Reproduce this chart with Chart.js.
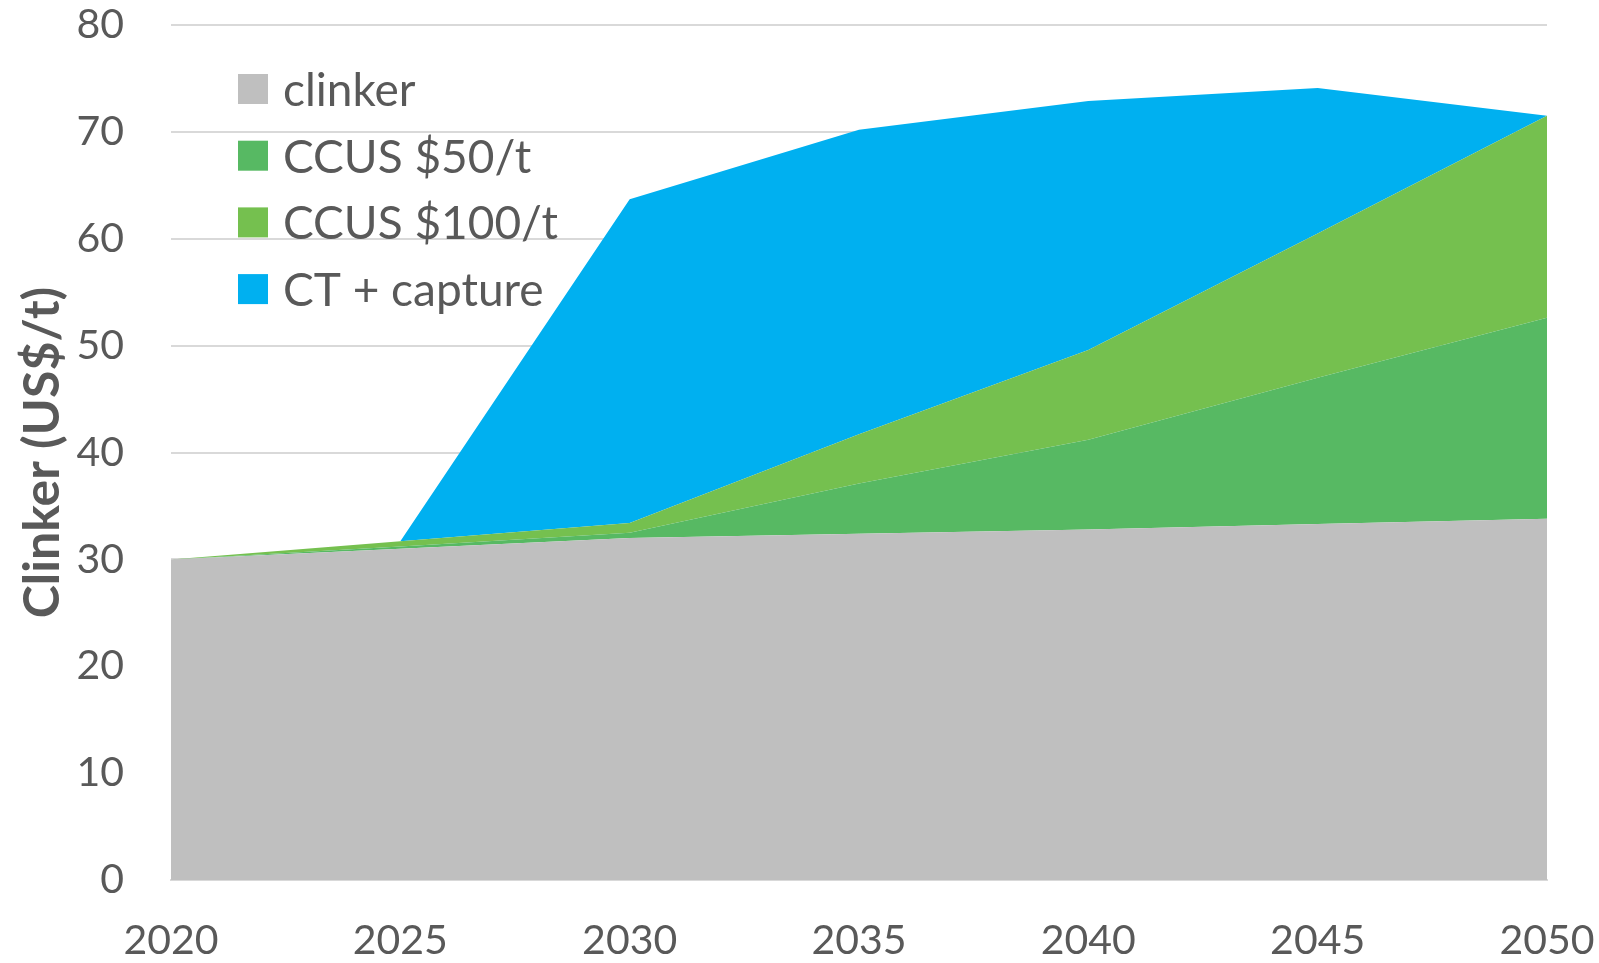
<!DOCTYPE html>
<html>
<head>
<meta charset="utf-8">
<script src="https://cdn.jsdelivr.net/npm/chart.js@4.4.1/dist/chart.umd.min.js"></script>
<style>
  html, body { margin: 0; padding: 0; background: #fff; }
  #wrap { width: 1599px; height: 963px; position: relative; }
</style>
</head>
<body>
<div id="wrap"><canvas id="clinkerChart"></canvas></div>
<script>
// Dados
const years = ['2020', '2025', '2030', '2035', '2040', '2045', '2050'];
const clinker = [30.0, 31.0, 32.0, 32.4, 32.8, 33.3, 33.8];
const ccus50 = [0, 0.2, 0.5, 4.7, 8.4, 13.7, 18.8];
const ccus100 = [0, 0.5, 0.9, 4.6, 8.4, 13.5, 18.9];
const ctCapture = [0, 0, 30.3, 28.5, 23.3, 13.6, 0];

const seriesNames = ['clinker', 'CCUS $50/t', 'CCUS $100/t', 'CT + capture'];
const seriesColors = ['#BFBFBF', '#57B963', '#75C04F', '#00B0F0'];

const textColor = '#595959';
const fontFamily = 'Lato, "Open Sans", sans-serif';

function area(i, values) {
  return {
    label: seriesNames[i],
    data: values,
    fill: i === 0 ? 'origin' : '-1',
    backgroundColor: seriesColors[i],
    borderColor: seriesColors[i],
    borderWidth: 0,
    pointRadius: 0,
    tension: 0
  };
}

// legenda desenhada dentro da área do gráfico
const insideLegend = {
  id: 'insideLegend',
  afterDraw(chart) {
    const c = chart.ctx;
    const left = chart.chartArea.left + 67;
    const top = chart.chartArea.top + 64;
    const rowH = 66.7;
    const box = 30;
    c.save();
    c.font = '46px ' + fontFamily;
    c.textBaseline = 'middle';
    c.textAlign = 'left';
    chart.data.datasets.forEach((ds, i) => {
      const y = top + i * rowH;
      c.fillStyle = ds.backgroundColor;
      c.fillRect(left, y - box / 2, box, box);
      c.fillStyle = textColor;
      c.fillText(ds.label, left + box + 15, y + 2);
    });
    c.restore();
  }
};

const ctx = document.getElementById('clinkerChart').getContext('2d');
const chart = new Chart(ctx, {
  type: 'line',
  data: {
    labels: years,
    datasets: [
      area(0, clinker),
      area(1, ccus50),
      area(2, ccus100),
      area(3, ctCapture)
    ]
  },
  options: {
    responsive: true,
    maintainAspectRatio: false,
    animation: false,
    layout: { padding: { left: 13, right: 4, top: 0, bottom: 0 } },
    plugins: {
      legend: { display: false },
      tooltip: { enabled: false }
    },
    scales: {
      x: {
        offset: false,
        grid: { display: false, drawTicks: false },
        border: { display: true, color: '#D9D9D9', width: 2 },
        ticks: {
          color: textColor,
          font: { family: fontFamily, size: 41 },
          padding: 36,
          maxRotation: 0,
          autoSkip: false
        },
        afterFit(scale) {
          scale.height = 83;
          scale.paddingLeft = 0;
          scale.paddingRight = 52;
        }
      },
      y: {
        stacked: true,
        min: 0,
        max: 80,
        grid: { color: '#D9D9D9', lineWidth: 2, drawTicks: false },
        border: { display: false },
        ticks: {
          stepSize: 10,
          color: textColor,
          font: { family: fontFamily, size: 41 },
          padding: 47
        },
        title: {
          display: true,
          text: 'Clinker (US$/t)',
          color: textColor,
          font: { family: fontFamily, size: 50, weight: 'bold' },
          padding: { top: 0, bottom: 4 }
        },
        afterFit(scale) {
          scale.width = 158;
          scale.paddingTop = 25;
          scale.paddingBottom = 0;
        }
      }
    }
  },
  plugins: [insideLegend]
});
</script>
</body>
</html>
